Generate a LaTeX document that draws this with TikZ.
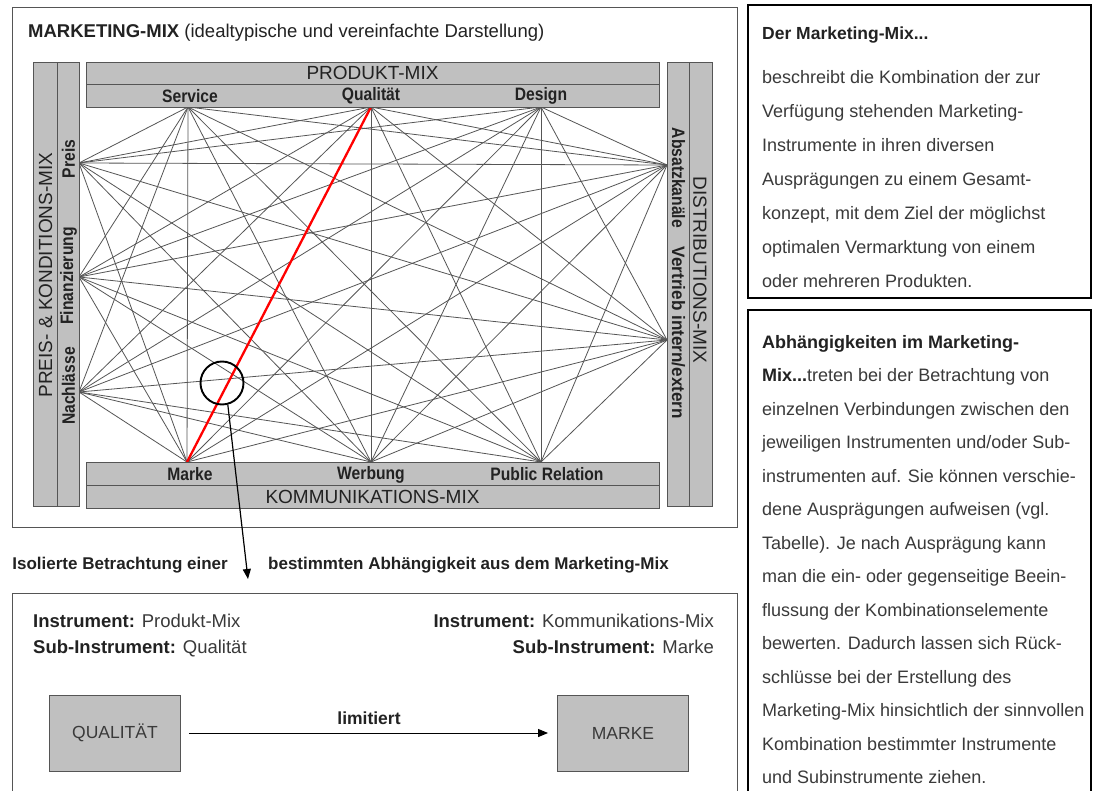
\documentclass[tikz,border=0pt]{standalone}
\usepackage{fontspec}
\setmainfont{Liberation Sans}
\newfontfamily\lblfont[FakeStretch=0.87]{Liberation Sans}
\newfontfamily\lblwidefont[FakeStretch=0.95]{Liberation Sans}
\usetikzlibrary{arrows.meta}
\definecolor{barfill}{HTML}{C0C0C0}
\definecolor{bardraw}{HTML}{555555}
\definecolor{netgray}{HTML}{555555}
\definecolor{txt}{HTML}{222222}
\definecolor{lighttxt}{HTML}{3A3A3A}
\begin{document}
\begin{tikzpicture}[x=1pt,y=-1pt,
  bar/.style={draw=bardraw, fill=barfill, line width=0.9pt, inner sep=0pt},
  net/.style={draw=netgray, line width=0.8pt},
  sublbl/.style={font=\lblfont\bfseries\fontsize{18}{19}\selectfont, text=txt, inner sep=0pt},
  grplbl/.style={font=\fontsize{19}{21}\selectfont, text=txt, inner sep=0pt},
  frame/.style={draw=bardraw, line width=0.9pt},
  infobox/.style={draw=black, line width=1.6pt},
  bodytxt/.style={font=\fontsize{18}{34}\selectfont, text=lighttxt, align=left, anchor=north west, inner sep=0pt},
  smallbox/.style={draw=bardraw, fill=barfill, line width=0.9pt, minimum width=131pt, minimum height=76pt, font=\fontsize{17.5}{19}\selectfont, text=lighttxt},
  arr/.style={line width=1.2pt, -{Triangle[length=10pt,width=8pt]}}
]
\useasboundingbox (0,0) rectangle (1094,791);
\fill[white] (0,0) rectangle (1094,791);

% ---------- outer frame of the diagram ----------
\draw[frame] (12,7) rectangle (737,527);
\node[anchor=base west, inner sep=0pt, text=txt, font=\fontsize{18.5}{20}\selectfont] (title) at (28,38)
  {\textbf{MARKETING-MIX} (idealtypische und vereinfachte Darstellung)};

% ---------- connection points ----------
\coordinate (sv) at (188,107);
\coordinate (ql) at (371,107);
\coordinate (ds) at (541,107);
\coordinate (mk) at (187,462);
\coordinate (wb) at (371,462);
\coordinate (pr) at (541,462);
\coordinate (ps) at (79,163);
\coordinate (fz) at (79,277);
\coordinate (nl) at (79,392);
\coordinate (ak) at (667,165);
\coordinate (vt) at (667,340);

% ---------- network ----------
\foreach \a in {sv,ql,ds} {\foreach \b in {wb,pr,ps,fz,nl,ak,vt} {\draw[net] (\a) -- (\b);}}
\foreach \a in {sv,ds} {\draw[net] (\a) -- (mk);}
\foreach \a in {mk,wb,pr} {\foreach \b in {ps,fz,nl,ak,vt} {\draw[net] (\a) -- (\b);}}
\foreach \a in {ps,fz,nl} {\foreach \b in {ak,vt} {\draw[net] (\a) -- (\b);}}
\draw[red, line width=2.3pt] (ql) -- (mk);

% ---------- bars ----------
\node[bar, minimum width=573pt, minimum height=22pt, grplbl] (pmix) at (372.5,73) {PRODUKT-MIX};
\node[bar, minimum width=573pt, minimum height=23pt] (prow) at (372.5,95.5) {};
\node[sublbl] (lsv) at (190,96) {Service};
\node[sublbl] (lql) at (371,96) {Qualität};
\node[sublbl] (lds) at (541,96) {Design};

\node[bar, minimum width=573pt, minimum height=23pt] (krow) at (372.5,473.5) {};
\node[bar, minimum width=573pt, minimum height=23pt, grplbl] (kmix) at (372.5,496.5) {KOMMUNIKATIONS-MIX};
\node[sublbl] (lmk) at (190,474.5) {Marke};
\node[sublbl] (lwb) at (371,474.5) {Werbung};
\node[sublbl] (lpr) at (547,474.5) {Public Relation};

\node[bar, rotate=90, minimum width=444pt, minimum height=24pt] (lout) at (45,284) {};
\node[bar, rotate=90, minimum width=444pt, minimum height=22pt] (lin) at (68,284) {};
\node[grplbl, rotate=90] (pkmix) at (45.5,275) {PREIS- \& KONDITIONS-MIX};
\node[sublbl, rotate=90] (lps) at (68.5,159) {Preis};
\node[sublbl, rotate=90] (lfz) at (68.5,276) {Finanzierung};
\node[sublbl, rotate=90] (lnl) at (68.5,386) {Nachlässe};

\node[bar, rotate=-90, minimum width=444pt, minimum height=22pt] (rin) at (678,284) {};
\node[bar, rotate=-90, minimum width=444pt, minimum height=23pt] (rout) at (700.5,284) {};
\node[grplbl, rotate=-90] (dmix) at (700,270) {DISTRIBUTIONS-MIX};
\node[sublbl, rotate=-90] (lak) at (678.5,178) {Absatzkanäle};
\node[sublbl, rotate=-90, font=\lblwidefont\bfseries\fontsize{18}{19}\selectfont] (lvt) at (678.5,333) {Vertrieb intern/extern};

% ---------- magnifier and arrow ----------
\node[circle, draw=black, line width=1.9pt, minimum size=43pt, inner sep=0pt] (lupe) at (222,383) {};
\coordinate (tip) at (248,579);
\draw[arr] (lupe.-75) -- (tip);

\node[anchor=base east, inner sep=0pt, text=txt, font=\bfseries\fontsize{17}{18}\selectfont] (iso) at (228,569) {Isolierte Betrachtung einer};
\node[anchor=base west, inner sep=0pt, text=txt, font=\bfseries\fontsize{17}{18}\selectfont] (best) at (268,569) {bestimmten Abhängigkeit aus dem Marketing-Mix};

% ---------- lower detail box ----------
\draw[frame] (12,593) rectangle (737,800);
\node[anchor=base west, inner sep=0pt, text=lighttxt, font=\fontsize{18.5}{20}\selectfont] (i1) at (33,627) {\textbf{\color{txt}Instrument:} Produkt-Mix};
\node[anchor=base west, inner sep=0pt, text=lighttxt, font=\fontsize{18.5}{20}\selectfont] (s1) at (33,653) {\textbf{\color{txt}Sub-Instrument:} Qualität};
\node[anchor=base east, inner sep=0pt, text=lighttxt, font=\fontsize{18.5}{20}\selectfont] (i2) at (714,627) {\textbf{\color{txt}Instrument:} Kommunikations-Mix};
\node[anchor=base east, inner sep=0pt, text=lighttxt, font=\fontsize{18.5}{20}\selectfont] (s2) at (714,653) {\textbf{\color{txt}Sub-Instrument:} Marke};

\node[smallbox] (qbox) at (115,733) {QUALITÄT};
\node[smallbox] (mbox) at (623,733) {MARKE};
\draw[arr, line width=1pt, shorten <=8pt, shorten >=9pt] (qbox) -- node[above=5pt, text=txt, font=\bfseries\fontsize{17.5}{19}\selectfont] (lim) {limitiert} (mbox);

% ---------- right info boxes ----------
\draw[infobox] (748,5) rectangle (1091,298);
\node[anchor=base west, inner sep=0pt, text=txt, font=\bfseries\fontsize{17.5}{19}\selectfont] (t1) at (762,40) {Der Marketing-Mix...};
\node[bodytxt] (b1) at (762,70) {beschreibt die Kombination der zur\\
Verfügung stehenden Marketing-\\
Instrumente in ihren diversen\\
Ausprägungen zu einem Gesamt-\\
konzept, mit dem Ziel der möglichst\\
optimalen Vermarktung von einem\\
oder mehreren Produkten.};

\draw[infobox] (748,310) rectangle (1091,800);
\node[bodytxt, font=\fontsize{18}{33.5}\selectfont] (b2) at (762,335) {{\bfseries\color{txt}Abhängigkeiten im Marketing-}\\
{\bfseries\color{txt}Mix...}treten bei der Betrachtung von\\
einzelnen Verbindungen zwischen den\\
jeweiligen Instrumenten und/oder Sub-\\
instrumenten auf. Sie können verschie-\\
dene Ausprägungen aufweisen (vgl.\\
Tabelle). Je nach Ausprägung kann\\
man die ein- oder gegenseitige Beein-\\
flussung der Kombinationselemente\\
bewerten. Dadurch lassen sich Rück-\\
schlüsse bei der Erstellung des\\
Marketing-Mix hinsichtlich der sinnvollen\\
Kombination bestimmter Instrumente\\
und Subinstrumente ziehen.};
\end{tikzpicture}
\end{document}
